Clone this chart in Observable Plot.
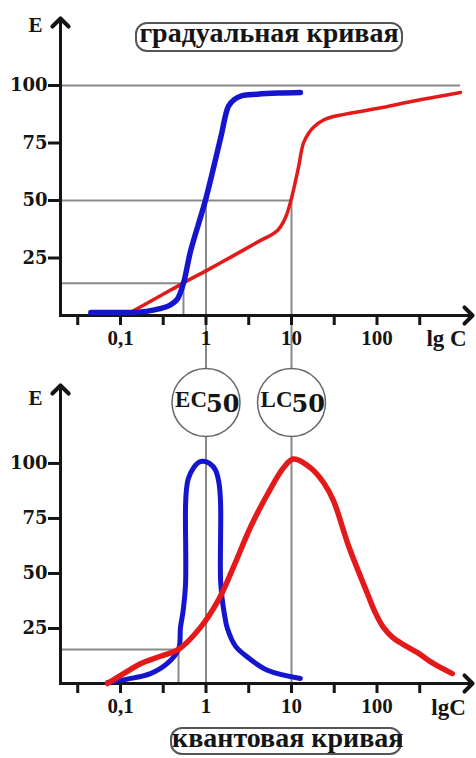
<!DOCTYPE html>
<html>
<head>
<meta charset="utf-8">
<script src="https://cdn.jsdelivr.net/npm/d3@7"></script>
<script src="https://cdn.jsdelivr.net/npm/@observablehq/plot@0.6"></script>
<style>
  body { margin: 0; background: #fff; }
  #wrap { position: relative; width: 476px; height: 758px; overflow: hidden; background: #fff; }
  .panel { position: absolute; left: 0; }
  .box {
    position: absolute; box-sizing: border-box; border: 2px solid #555; border-radius: 12px;
    font: bold 28px "Liberation Serif", "Times New Roman", serif; color: #151515;
    text-align: center; white-space: nowrap;
  }
</style>
</head>
<body>
<div id="wrap">
  <div class="panel" id="p1" style="top:0"></div>
  <div class="panel" id="p2" style="top:360px"></div>
  <div class="box" id="t1" style="left:135px;top:22px;width:268px;height:30px;line-height:18px"></div>
  <div class="box" id="t2" style="left:170px;top:727px;width:232px;height:28px;line-height:17px"></div>
</div>
<script>
// ---- texts ----
const titleTop = "градуальная кривая";
const titleBottom = "квантовая кривая";
const yAxisName = "E";
const xAxisNameTop = "lg C";
const xAxisNameBottom = "lgC";

// ---- ticks ----
const xTicks = [0.0316, 0.1, 0.316, 1, 3.16, 10, 31.6, 100, 316];
const xTickLabels = ["", "0,1", "", "1", "", "10", "", "100", ""];
const yTicks = [25, 50, 75, 100];
const yTickLabels = ["25", "50", "75", "100"];

// ---- markers (EC50 / LC50) ----
const markerC = [1, 10];
const markerLabels = ["EC", "LC"];
const markerSub = ["50", "50"];

// ---- graded curve (top) ----
const gradBlueC = [0.045, 0.09, 0.13, 0.2, 0.29, 0.38, 0.46, 0.545, 0.66, 1, 1.5, 1.83, 2.15, 2.6, 4, 7, 12.7];
const gradBlueE = [1.3, 1.3, 1.3, 1.8, 3, 4.5, 7, 14, 28, 51, 78, 91, 94, 95.5, 96.2, 96.7, 97];
const gradRedC = [0.13, 0.3, 0.545, 1.13, 2, 4, 6.86, 8.5, 10, 12, 13.8, 16, 18.2, 23.7, 31, 100, 300, 948];
const gradRedE = [1.3, 8.8, 14.2, 20.5, 25.6, 31.9, 37, 42.6, 51, 64, 75, 79.5, 82, 85, 86.5, 90, 93.6, 97];
const gradLevels = [100, 50, 14];
const gradLevelEnds = [950, 10, 0.545];
const gradCrossC = 0.545;
const gradCrossE = 14;

// ---- quantal curve (bottom) ----
const quantBlueC = [0.0705, 0.12, 0.224, 0.35, 0.477, 0.503, 0.54, 0.576, 0.576, 0.59, 0.62, 0.714, 0.82, 0.935, 1.1, 1.29, 1.42, 1.48, 1.48, 1.55, 1.65, 1.78, 2.21, 2.9, 5.24, 12.7];
const quantBlueE = [0.5, 2, 4.5, 9, 15.5, 25.5, 33, 45, 80, 88, 93, 98, 100.5, 101, 100, 97, 91, 82, 47, 38, 31, 25, 17, 12.7, 6, 2.3];
const quantRedC = [0.0705, 0.12, 0.171, 0.3, 0.477, 0.862, 1.4, 2.1, 3.31, 5.24, 8.06, 10.5, 16.7, 24, 31, 47, 77, 96, 119, 152, 204, 298, 460, 760];
const quantRedE = [0, 5.5, 9, 12.5, 15.5, 25.5, 38, 53, 71, 86, 98, 102, 98, 91, 83, 62, 41, 32, 25.5, 21, 17.7, 14, 9, 4.5];
const quantLevel = 15.5;
const quantLevelEnd = 0.477;

// ---- styling ----
const gray = "#8a8a8a", blue = "#1515d0", red = "#e41a1a", ink = "#151515";
const serif = "Liberation Serif";
const xDomain = [0.01987, 1175];

const pts = (cs, es) => cs.map((c, i) => ({c, e: es[i]}));

function axes(yMax) {
  return [
    Plot.axisX({ticks: xTicks, tickFormat: d => xTickLabels[xTicks.indexOf(d)], tickSize: 10, tickPadding: 5,
      strokeWidth: 3, fontSize: 21, fontWeight: "bold", fontFamily: serif, label: null}),
    Plot.axisY({ticks: yTicks, tickFormat: d => yTickLabels[yTicks.indexOf(d)], tickSize: 12, tickPadding: 1,
      strokeWidth: 3, fontSize: 18, fontWeight: "bold", fontFamily: "DejaVu Serif", label: null}),
    Plot.link([0], {x1: xDomain[0], x2: xDomain[1], y1: 0, y2: 0, stroke: ink, strokeWidth: 3,
      strokeLinecap: "square", markerEnd: "arrow"}),
    Plot.link([0], {x1: xDomain[0], x2: xDomain[0], y1: 0, y2: yMax, stroke: ink, strokeWidth: 3,
      strokeLinecap: "square", markerEnd: "arrow"})
  ];
}

const topYMax = 127.4;
const topPlot = Plot.plot({
  width: 476, height: 370,
  marginLeft: 60, marginRight: 8, marginTop: 22, marginBottom: 55,
  x: {type: "log", domain: xDomain},
  y: {domain: [0, topYMax]},
  style: {background: "transparent", overflow: "visible", color: ink},
  marks: [
    Plot.ruleY(gradLevels, {y: d => d, x1: xDomain[0], x2: (d, i) => gradLevelEnds[i], stroke: gray, strokeWidth: 2}),
    Plot.ruleX([gradCrossC], {x: d => d, y1: gradCrossE, y2: 0, stroke: gray, strokeWidth: 2}),
    Plot.ruleX(markerC, {x: d => d, y1: 50, y2: 0, insetBottom: -55, stroke: gray, strokeWidth: 2}),
    ...axes(topYMax),
    Plot.line(pts(gradRedC, gradRedE), {x: "c", y: "e", stroke: red, strokeWidth: 3.5, curve: "catmull-rom", strokeLinecap: "round", strokeLinejoin: "round"}),
    Plot.line(pts(gradBlueC, gradBlueE), {x: "c", y: "e", stroke: blue, strokeWidth: 5.5, curve: "catmull-rom", strokeLinecap: "round", strokeLinejoin: "round"}),
    Plot.text([yAxisName], {frameAnchor: "top-left", textAnchor: "middle", dx: -25, dy: 3, fontSize: 21, fontWeight: "bold", fontFamily: serif, lineAnchor: "middle"}),
    Plot.text([xAxisNameTop], {frameAnchor: "bottom-right", textAnchor: "middle", dx: -22, dy: 23, fontSize: 23, fontWeight: "bold", fontFamily: serif, lineAnchor: "middle"})
  ]
});

const botYMax = 133.6;
const botPlot = Plot.plot({
  width: 476, height: 398,
  marginLeft: 60, marginRight: 8, marginTop: 29, marginBottom: 75,
  x: {type: "log", domain: xDomain},
  y: {domain: [0, botYMax]},
  style: {background: "transparent", overflow: "visible", color: ink},
  marks: [
    Plot.ruleX(markerC, {x: d => d, stroke: gray, strokeWidth: 2}),
    Plot.ruleY([quantLevel], {y: d => d, x1: xDomain[0], x2: quantLevelEnd, stroke: gray, strokeWidth: 2}),
    Plot.ruleX([quantLevelEnd], {x: d => d, y1: quantLevel, y2: 0, stroke: gray, strokeWidth: 2}),
    ...axes(botYMax),
    Plot.line(pts(quantBlueC, quantBlueE), {x: "c", y: "e", stroke: blue, strokeWidth: 5, curve: "catmull-rom", strokeLinecap: "round", strokeLinejoin: "round"}),
    Plot.line(pts(quantRedC, quantRedE), {x: "c", y: "e", stroke: red, strokeWidth: 5.5, curve: "catmull-rom", strokeLinecap: "round", strokeLinejoin: "round"}),
    Plot.dot(markerC, {x: d => d, frameAnchor: "top", dy: 13, r: 34, fill: "white", stroke: "#666", strokeWidth: 1.5}),
    Plot.text(markerC, {x: d => d, text: (d, i) => markerLabels[i], frameAnchor: "top", dy: 10.5, dx: 1, textAnchor: "end",
      fontSize: 23, fontWeight: "bold", fontFamily: serif, lineAnchor: "middle"}),
    Plot.text(markerC, {x: d => d, text: (d, i) => markerSub[i], frameAnchor: "top", dy: 15, dx: 0, textAnchor: "start",
      fontSize: 24, fontWeight: "bold", fontFamily: "DejaVu Serif", lineAnchor: "middle"}),
    Plot.text([yAxisName], {frameAnchor: "top-left", textAnchor: "middle", dx: -25, dy: 8.5, fontSize: 21, fontWeight: "bold", fontFamily: serif, lineAnchor: "middle"}),
    Plot.text([xAxisNameBottom], {frameAnchor: "bottom-right", textAnchor: "middle", dx: -20, dy: 24, fontSize: 23, fontWeight: "bold", fontFamily: serif, lineAnchor: "middle"})
  ]
});

for (const svg of [topPlot, botPlot]) {
  svg.querySelectorAll("marker").forEach(m => {
    m.setAttribute("markerWidth", "9");
    m.setAttribute("markerHeight", "9");
  });
}

document.getElementById("p1").appendChild(topPlot);
document.getElementById("p2").appendChild(botPlot);
document.getElementById("t1").textContent = titleTop;
document.getElementById("t2").textContent = titleBottom;
</script>
</body>
</html>
